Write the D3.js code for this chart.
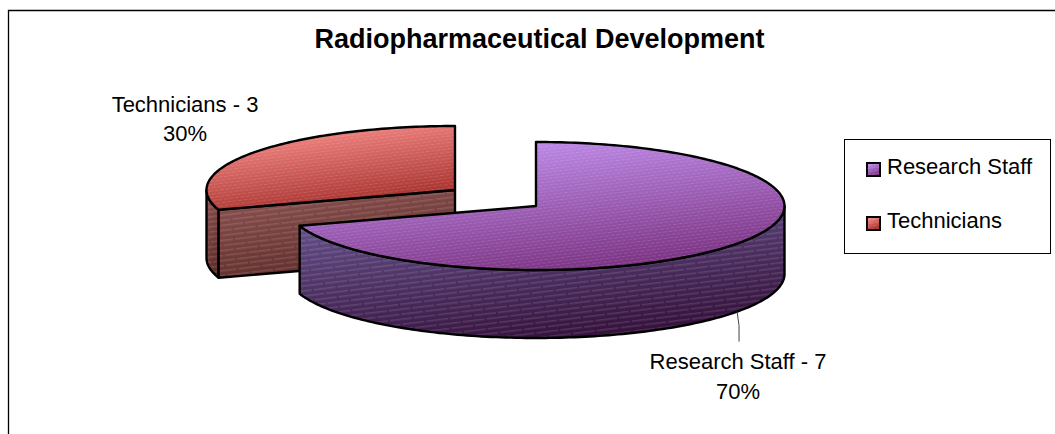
<!DOCTYPE html>
<html>
<head>
<meta charset="utf-8">
<script src="https://cdn.jsdelivr.net/npm/d3@7"></script>
<style>
  html, body { margin: 0; background: #fff; }
  svg { display: block; }
  text { font-family: "Liberation Sans", Arial, sans-serif; fill: #000; }
</style>
</head>
<body>
<div id="chart"></div>
<script>
var categories = ["Research Staff", "Technicians"];
var values = [7, 3];
var percentLabels = ["70%", "30%"];
var title = "Radiopharmaceutical Development";

var W = 1055, H = 434;
var svg = d3.select("#chart").append("svg").attr("width", W).attr("height", H);
var defs = svg.append("defs");

// top / wall gradient stops for each slice
var topStops = [["#c291f0", "#7a3080"], ["#fa8f8c", "#a02a26"]];
var wallStops = [["#66528c", "#34103a"], ["#8a5250", "#5c2a28"]];

function gradient(id, stops) {
  var g = defs.append("linearGradient").attr("id", id)
    .attr("x1", 0.25).attr("y1", 0).attr("x2", 0.65).attr("y2", 1);
  g.append("stop").attr("offset", 0).attr("stop-color", stops[0]);
  g.append("stop").attr("offset", 1).attr("stop-color", stops[1]);
}
categories.forEach(function (c, i) {
  gradient("top" + i, topStops[i]);
  gradient("wall" + i, wallStops[i]);
});

// the dashed white hatch Excel lays over the fills, rows staggered by half a dash
function hatch(id, dash, gap, rowH, h, op) {
  var p = defs.append("pattern").attr("id", id)
    .attr("patternUnits", "userSpaceOnUse")
    .attr("width", dash + gap).attr("height", rowH * 2)
    .attr("patternTransform", "rotate(-7)");
  p.append("rect").attr("x", 0).attr("y", 0.5)
    .attr("width", dash).attr("height", h)
    .attr("fill", "#fff").attr("fill-opacity", op);
  p.append("rect").attr("x", (dash + gap) / 2).attr("y", rowH + 0.5)
    .attr("width", dash).attr("height", h)
    .attr("fill", "#fff").attr("fill-opacity", op);
  p.append("rect").attr("x", (dash + gap) / 2 - dash - gap).attr("y", rowH + 0.5)
    .attr("width", dash).attr("height", h)
    .attr("fill", "#fff").attr("fill-opacity", op);
}
hatch("hatchTop", 4, 1.5, 3.2, 0.9, 0.15);
hatch("hatchWall", 22, 2, 5, 0.8, 0.24);

// chart frame: only top and left edges are inside the crop
svg.append("path").attr("d", "M8.5," + H + "V10.5H" + W)
  .attr("fill", "none").attr("stroke", "#000").attr("stroke-width", 1.3);

svg.append("text").attr("x", 539.5).attr("y", 48)
  .attr("text-anchor", "middle").attr("font-size", 27)
  .attr("font-weight", "bold").text(title);

// pie layout; each slice is pulled out to its own centre
var slices = d3.pie().sort(null).value(function (d) { return d; })(values);
var centers = [[536, 206], [455, 190]];
var rx = 248.5, ry = 64, depth = 68;
var line = d3.line();

function pt(i, a, dy) {
  return [centers[i][0] + rx * Math.sin(a),
          centers[i][1] - ry * Math.cos(a) + (dy || 0)];
}
function rim(i, a0, a1, dy) {
  var n = Math.ceil(Math.abs(a1 - a0) / 0.02);
  var sc = d3.scaleLinear().domain([0, n]).range([a0, a1]);
  return d3.range(n + 1).map(function (k) { return pt(i, sc(k), dy); });
}
function fillHatch(g, d, fill, pat) {
  g.append("path").attr("d", d).attr("fill", "url(#" + fill + ")");
  g.append("path").attr("d", d).attr("fill", "url(#" + pat + ")");
  g.append("path").attr("d", d).attr("fill", "none")
    .attr("stroke", "#000").attr("stroke-width", 2.4)
    .attr("stroke-linejoin", "round");
}

function drawSlice(i) {
  var s = slices[i], g = svg.append("g");
  var c = centers[i];
  var a0 = s.startAngle, a1 = s.endAngle;
  // outer wall: the part of the rim that faces the viewer
  var w0 = Math.max(a0, Math.PI / 2), w1 = Math.min(a1, Math.PI * 1.5);
  var wall = rim(i, w0, w1, 0).concat(rim(i, w1, w0, depth));
  fillHatch(g, line(wall) + "Z", "wall" + i, "hatchWall");
  // cut face, only visible on the slice whose edge faces down-left to the apex
  if (a0 > Math.PI) {
    var p = pt(i, a0);
    var cut = [c, p, [p[0], p[1] + depth], [c[0], c[1] + depth]];
    fillHatch(g, line(cut) + "Z", "wall" + i, "hatchWall");
  }
  var top = [c].concat(rim(i, a0, a1, 0));
  fillHatch(g, line(top) + "Z", "top" + i, "hatchTop");
}
// technicians sit behind research staff
drawSlice(1);
drawSlice(0);

// leader from research staff label to the middle of its slice
var lead = pt(0, (slices[0].startAngle + slices[0].endAngle) / 2, depth);
svg.append("path").attr("d", line([lead, [lead[0] + 2, lead[1] + 14], [lead[0] + 2, lead[1] + 30]]))
  .attr("fill", "none").attr("stroke", "#444").attr("stroke-width", 1);

// data labels
var labelPos = [[738, 368.5, 399], [185, 111.5, 141]];
categories.forEach(function (c, i) {
  svg.append("text").attr("x", labelPos[i][0]).attr("y", labelPos[i][1])
    .attr("text-anchor", "middle").attr("font-size", 22)
    .text(c + " - " + values[i]);
  svg.append("text").attr("x", labelPos[i][0]).attr("y", labelPos[i][2])
    .attr("text-anchor", "middle").attr("font-size", 22)
    .text(percentLabels[i]);
});

// legend
svg.append("rect").attr("x", 844.5).attr("y", 139.5)
  .attr("width", 206).attr("height", 114)
  .attr("fill", "#fff").attr("stroke", "#000").attr("stroke-width", 1);
var legendY = d3.scalePoint().domain(categories).range([169, 223]);
categories.forEach(function (c, i) {
  var y = legendY(c);
  svg.append("rect").attr("x", 867).attr("y", y - 6)
    .attr("width", 13).attr("height", 13)
    .attr("fill", "url(#top" + i + ")").attr("stroke", "#000").attr("stroke-width", 2);
  svg.append("rect").attr("x", 867).attr("y", y - 6)
    .attr("width", 13).attr("height", 13).attr("fill", "url(#hatchTop)");
  svg.append("text").attr("x", 887).attr("y", y + 5).attr("font-size", 22).text(c);
});
</script>
</body>
</html>
